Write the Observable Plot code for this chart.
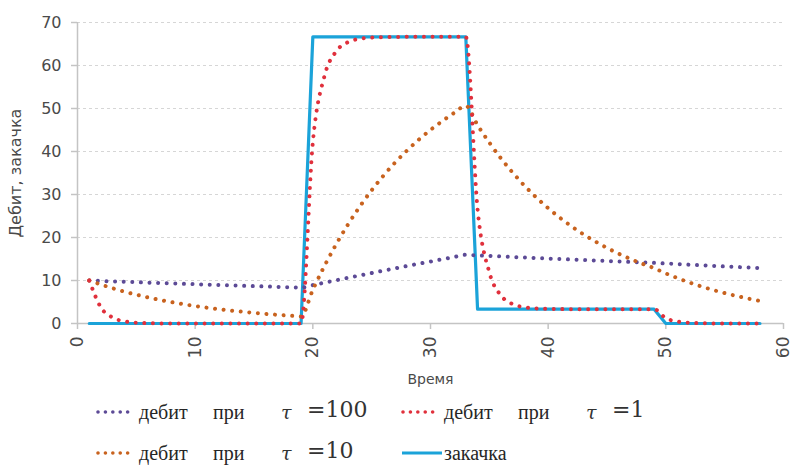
<!DOCTYPE html>
<html>
<head>
<meta charset="utf-8">
<script src="https://cdn.jsdelivr.net/npm/d3@7"></script>
<script src="https://cdn.jsdelivr.net/npm/@observablehq/plot@0.6"></script>
<style>
  body { margin: 0; background: #fff; }
  #wrap { position: relative; width: 794px; height: 468px; background: #fff; overflow: hidden; }
  #chart { position: absolute; left: 0; top: 0; }
  .leg { position: absolute; font-family: 'Liberation Serif', 'Tinos', 'Times New Roman', 'DejaVu Serif', serif; font-size: 20px; color: #262626; white-space: nowrap; line-height: 20px; }
  .leg svg { position: absolute; top: 5px; }
  .leg span { position: absolute; top: 0; }
  .math { font-family: 'DejaVu Serif', 'Liberation Serif', serif; font-weight: 300; color: #333; }
</style>
</head>
<body>
<div id="wrap">
  <div id="chart"></div>
  <div id="legend"></div>
</div>
<script>
// ---- data ----
const time = [1,2,3,4,5,6,7,8,9,10,11,12,13,14,15,16,17,18,19,20,21,22,23,24,25,26,27,28,29,30,31,32,33,34,35,36,37,38,39,40,41,42,43,44,45,46,47,48,49,50,51,52,53,54,55,56,57,58];

const debitTau100 = [10.00,9.90,9.80,9.70,9.61,9.51,9.42,9.32,9.23,9.14,9.05,8.96,8.87,8.78,8.69,8.61,8.52,8.44,8.35,
  8.93,9.50,10.07,10.63,11.19,11.74,12.29,12.83,13.37,13.90,14.42,14.94,15.46,15.97,
  15.84,15.72,15.59,15.47,15.35,15.23,15.11,14.99,14.88,14.76,14.65,14.54,14.42,14.31,14.20,14.10,
  13.96,13.82,13.68,13.55,13.41,13.28,13.15,13.02,12.89];

const debitTau1 = [10.00,3.68,1.35,0.50,0.18,0.07,0.02,0.01,0,0,0,0,0,0,0,0,0,0,0,
  42.14,57.65,63.35,65.45,66.22,66.50,66.61,66.65,66.66,66.67,66.67,66.67,66.67,66.67,
  26.63,11.90,6.48,4.49,3.76,3.49,3.39,3.35,3.34,3.33,3.33,3.33,3.33,3.33,3.33,3.33,
  1.23,0.45,0.17,0.06,0.02,0.01,0,0,0];

const debitTau10 = [10.00,9.05,8.19,7.41,6.70,6.07,5.49,4.97,4.49,4.07,3.68,3.33,3.01,2.73,2.47,2.23,2.02,1.83,1.65,
  7.84,13.44,18.50,23.08,27.23,30.98,34.38,37.45,40.23,42.75,45.02,47.08,48.95,50.63,
  46.13,42.06,38.37,35.04,32.02,29.29,26.82,24.59,22.56,20.73,19.08,17.58,16.22,15.00,13.89,12.88,
  11.65,10.55,9.54,8.63,7.81,7.07,6.40,5.79,5.24];

const zakachka = [0,0,0,0,0,0,0,0,0,0,0,0,0,0,0,0,0,0,0,
  66.67,66.67,66.67,66.67,66.67,66.67,66.67,66.67,66.67,66.67,66.67,66.67,66.67,66.67,
  3.33,3.33,3.33,3.33,3.33,3.33,3.33,3.33,3.33,3.33,3.33,3.33,3.33,3.33,3.33,3.33,
  0,0,0,0,0,0,0,0,0];

const xTicks = [0,10,20,30,40,50,60];
const yTicks = [0,10,20,30,40,50,60,70];
const xTitle = "Время";
const yTitle = "Дебит, закачка";

const seriesNames = ["дебит при τ =100", "дебит при τ =1", "дебит при τ =10", "закачка"];
const seriesColors = ["#5c4a96", "#e0303c", "#c8621e", "#1ba3d9"];

// ---- build table ----
const rows = (vals, name) => time.map((t, i) => ({t, v: vals[i], s: name}));
const dPurple = rows(debitTau100, seriesNames[0]);
const dRed = rows(debitTau1, seriesNames[1]);
const dOrange = rows(debitTau10, seriesNames[2]);
const dBlue = rows(zakachka, seriesNames[3]);

const font = "'DejaVu Sans', sans-serif";
const dotted = {strokeWidth: 4, strokeDasharray: "0.01 8.6", strokeLinecap: "round", curve: "monotone-x"};

const chart = Plot.plot({
  width: 794,
  height: 400,
  marginLeft: 77,
  marginRight: 11,
  marginTop: 22,
  marginBottom: 77,
  style: {fontFamily: font, fontSize: "16px", color: "#4a4a4a", background: "transparent"},
  x: {domain: [0, 60]},
  y: {domain: [0, 70]},
  marks: [
    Plot.gridY(yTicks.filter(d => d > 0), {stroke: "#d6d6d6", strokeOpacity: 1, strokeDasharray: "3 3", strokeWidth: 1}),
    Plot.ruleX([0], {stroke: "#c4c4c4", strokeWidth: 1.5}),
    Plot.ruleY([0], {stroke: "#c4c4c4", strokeWidth: 1.5}),
    Plot.axisY({ticks: yTicks, tickSize: 6, tickPadding: 10, stroke: "#c4c4c4", strokeWidth: 1.5, label: null, fontSize: 16}),
    Plot.axisX({ticks: xTicks, tickSize: 6, tickPadding: 7, tickRotate: -90, stroke: "#c4c4c4", strokeWidth: 1.5, label: null, fontSize: 17}),
    Plot.text([yTitle], {text: d => d, frameAnchor: "left", dx: -62, rotate: -90, fontSize: 16, fill: "#4a4a4a", textAnchor: "middle", lineAnchor: "middle"}),
    Plot.text([xTitle], {text: d => d, frameAnchor: "bottom", dy: 56, fontSize: 14, fill: "#4a4a4a", textAnchor: "middle", lineAnchor: "middle"}),
    Plot.line(dBlue, {x: "t", y: "v", stroke: seriesColors[3], strokeWidth: 3.2}),
    Plot.line(dPurple, {x: "t", y: "v", stroke: seriesColors[0], ...dotted}),
    Plot.line(dOrange, {x: "t", y: "v", stroke: seriesColors[2], ...dotted}),
    Plot.line(dRed, {x: "t", y: "v", stroke: seriesColors[1], ...dotted})
  ]
});
document.getElementById("chart").appendChild(chart);

// ---- legend (HTML) ----
const legendItems = [
  {left: 95, top: 402, color: seriesColors[0], dotted: true, parts: ["дебит", "при", "τ", "=100"]},
  {left: 400, top: 402, color: seriesColors[1], dotted: true, parts: ["дебит", "при", "τ", "=1"]},
  {left: 95, top: 443, color: seriesColors[2], dotted: true, parts: ["дебит", "при", "τ", "=10"]},
  {left: 400, top: 443, color: seriesColors[3], dotted: false, parts: ["закачка"]}
];
const partOffsets = [44, 118, 186, 212];
const legend = document.getElementById("legend");
for (const it of legendItems) {
  const div = document.createElement("div");
  div.className = "leg";
  div.style.left = it.left + "px";
  div.style.top = it.top + "px";
  div.style.width = "300px";
  div.style.height = "22px";
  const sw = it.dotted
    ? `<svg width="44" height="10" style="left:0"><line x1="3" y1="5" x2="40" y2="5" stroke="${it.color}" stroke-width="3.6" stroke-linecap="round" stroke-dasharray="0.01 7.4"/></svg>`
    : `<svg width="44" height="10" style="left:0"><line x1="2" y1="5" x2="42" y2="5" stroke="${it.color}" stroke-width="3.2"/></svg>`;
  let html = sw;
  if (it.parts.length === 1) {
    html += `<span style="left:44px">${it.parts[0]}</span>`;
  } else {
    it.parts.forEach((p, i) => {
      const cls = i >= 2 ? ' class="math"' : '';
      const style = i === 2 ? 'font-style:italic;' : '';
      html += `<span${cls} style="left:${partOffsets[i]}px;${style}${i===3?'font-size:22px;top:-2px;':''}${i===2?'font-size:19px;':''}">${p}</span>`;
    });
  }
  div.innerHTML = html;
  legend.appendChild(div);
}
</script>
</body>
</html>
